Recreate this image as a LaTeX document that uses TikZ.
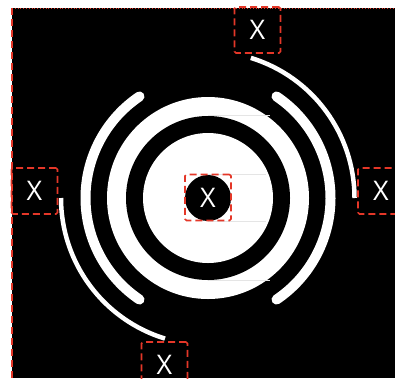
\documentclass[tikz,border=0pt]{standalone}
\usepackage{fontspec}
\setmainfont{Open Sans}
\definecolor{boxred}{RGB}{228,55,40}
\begin{document}
\begin{tikzpicture}[x=1pt,y=1pt,
  xbox/.style={draw=boxred, line width=1.6pt, dash pattern=on 7pt off 4pt, rounded corners=1.5pt,
    minimum width=46pt, minimum height=46pt, inner sep=0pt, text=white,
    font=\fontsize{27}{27}\selectfont},
  thickarc/.style={white, line width=10pt, line cap=round},
  thinarc/.style={white, line width=4.5pt},
  faint/.style={gray!20, line width=0.5pt}]
\useasboundingbox (0,0) rectangle (395,-378);
\fill[black] (12,-8) rectangle (395,-378);
\draw[boxred, dotted, line width=0.8pt] (12,-8) -- (395,-8);
\draw[boxred, line width=1.2pt, dash pattern=on 7pt off 4pt] (12,-8) -- (12,-378);
\coordinate (c) at (208,-198);
\fill[white] (c) circle[radius=101pt];
\draw[faint] (208,-115.5) -- (270,-115.5);
\draw[faint] (208,-280.5) -- (270,-280.5);
\fill[black] (c) circle[radius=82pt];
\fill[white] (c) circle[radius=65pt];
\draw[faint] (208,-174) -- (266,-174);
\draw[faint] (208,-221) -- (266,-221);
\fill[black] (c) circle[radius=23pt];
\draw[thickarc] (c) ++(124:122.5pt) arc[start angle=124, end angle=236, radius=122.5pt];
\draw[thickarc] (c) ++(56:122.5pt) arc[start angle=56, end angle=-56, radius=122.5pt];
\draw[thinarc] (c) ++(73:146.5pt) arc[start angle=73, end angle=0, radius=146.5pt];
\draw[thinarc] (c) ++(180:147pt) arc[start angle=180, end angle=253, radius=147pt];
\node[xbox] (center) at (208,-197.5) {X};
\node[xbox] (top) at (257.5,-30) {X};
\node[xbox] (left) at (34.5,-191) {X};
\node[xbox] (right) at (381,-191) {X};
\node[xbox] (bottom) at (164.5,-365) {X};
\end{tikzpicture}
\end{document}
